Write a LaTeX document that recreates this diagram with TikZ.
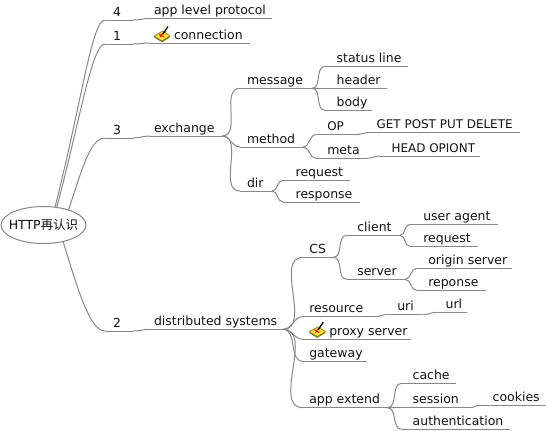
\documentclass[tikz,border=0pt]{standalone}
\usepackage{fontspec}
\setmainfont{DejaVu Sans}
\newfontfamily\cjk{Noto Sans CJK SC}
\usetikzlibrary{shapes.geometric}
\definecolor{c888888}{RGB}{136,136,136}
\definecolor{cffe83c}{RGB}{255,232,60}
\definecolor{c8a7a10}{RGB}{138,122,16}
\definecolor{c111111}{RGB}{17,17,17}
\tikzset{
  branch/.style={draw=c888888,line width=0.75pt},
  fork/.style={branch,out=0,in=180},
  topic/.style 2 args={anchor=south west,inner sep=0pt,outer sep=0pt,
    font=\fontsize{9.35pt}{11pt}\selectfont,text=c111111,text height=8pt,text depth=2.8pt,
    execute at begin node={\hbox to \dimexpr #1pt*3/4\relax\bgroup\hspace*{\dimexpr #2pt*3/4\relax}},
    execute at end node={\hss\egroup}},
  capstext/.style={font=\fontsize{8.95pt}{11pt}\selectfont},
  rootnode/.style={ellipse,draw=c888888,line width=0.75pt,inner xsep=-6pt,inner ysep=0pt,outer sep=0pt,
    minimum width=63.75pt,minimum height=27.75pt,text=c111111,font=\fontsize{9.35pt}{11pt}\selectfont},
  pics/pencilicon/.style={code={
    \path[fill=cffe83c,draw=c8a7a10,line width=0.5pt] (0,10) -- (9,5) -- (16,10) -- (8,15) -- cycle;
    \path[draw=c8a7a10,line width=0.9pt] (0.5,11) -- (8,15.5) -- (15.5,11);
    \path[draw=red,line width=0.7pt] (5,8) -- (10,11) (9,7) -- (6,11);
    \path[draw=black,line width=1pt] (9,8) -- (14,0.5);
  }}
}

\begin{document}
\begin{tikzpicture}[x=0.75pt,y=-0.75pt]
  \useasboundingbox (0,0) rectangle (546,430);

  \node[rootnode] (root) at (43.5,225) {HTTP{\cjk 再认识}};

  % first level
  \node[topic={28}{8}] (four) at (105,20) {4};
  \node[topic={122}{4}] (app) at (150,18.5) {app level protocol};
  \node[topic={28}{8}] (one) at (105,44) {1};
  \node[topic={100}{24}] (connection) at (150,43) {connection};
  \node[topic={28}{8}] (three) at (105,138) {3};
  \node[topic={72}{4}] (exchange) at (150,136) {exchange};
  \node[topic={28}{8}] (two) at (105,331) {2};
  \node[topic={133}{4}] (distributed) at (150,329.3) {distributed systems};

  % exchange
  \node[topic={72}{7}] (message) at (240,88.3) {message};
  \node[topic={63}{7}] (method) at (240,147) {method};
  \node[topic={32}{7}] (dir) at (240,191) {dir};
  \node[topic={82.7}{11.7}] (statusline) at (325,66.3) {status line};
  \node[topic={61.7}{11.7}] (header) at (325,88.3) {header};
  \node[topic={46.7}{11.7}] (body) at (325,110.3) {body};
  \node[topic={39}{11.3},capstext] (op) at (316,134.7) {OP};
  \node[topic={150}{6.7},capstext] (getpost) at (370,132.5) {GET POST PUT DELETE};
  \node[topic={51}{11.3}] (meta) at (316,158.3) {meta};
  \node[topic={100}{11.7},capstext] (headoption) at (380,156) {HEAD OPIONT};
  \node[topic={67}{12.7}] (request) at (283,180.3) {request};
  \node[topic={77}{12.7}] (response) at (283,202) {response};

  % distributed systems
  \node[topic={30.3}{6.3}] (cs) at (303,257.3) {CS};
  \node[topic={53.3}{10.6}] (client) at (346.7,235.3) {client};
  \node[topic={58.3}{10.6}] (server) at (346.7,279.3) {server};
  \node[topic={87.7}{13.3}] (useragent) at (410,224.3) {user agent};
  \node[topic={67.7}{13.3}] (request2) at (410,246.3) {request};
  \node[topic={95}{11.6}] (originserver) at (416.7,268.3) {origin server};
  \node[topic={69}{11.6}] (reponse) at (416.7,290.3) {reponse};
  \node[topic={73.7}{6.3}] (resource) at (303,316.7) {resource};
  \node[topic={38.3}{12.3}] (uri) at (385,314.7) {uri};
  \node[topic={30}{9}] (url) at (436.7,312.3) {url};
  \node[topic={108}{26.3}] (proxy) at (303,339.3) {proxy server};
  \node[topic={63.7}{6.3}] (gateway) at (303,361.3) {gateway};
  \node[topic={84.3}{6.3}] (appextend) at (303,407.7) {app extend};
  \node[topic={54}{11}] (cache) at (401.7,383.3) {cache};
  \node[topic={68.3}{11}] (session) at (401.7,407.7) {session};
  \node[topic={66}{12.7}] (cookies) at (480,405.3) {cookies};
  \node[topic={108.3}{11}] (authentication) at (401.7,429.3) {authentication};

  \pic at (154,26) {pencilicon};
  \pic at (309.3,321.7) {pencilicon};

  % underlines
  \foreach \n in {four,app,one,connection,three,exchange,two,distributed,message,method,dir,
    statusline,header,body,op,getpost,meta,headoption,request,response,cs,client,server,
    useragent,request2,originserver,reponse,resource,uri,url,proxy,gateway,appextend,
    cache,session,cookies,authentication}
    \draw[branch] (\n.south west) -- (\n.south east);

  % connectors
  \draw[branch] (root.57) .. controls (82,100) and (92,20) .. (four.south west);
  \draw[branch] (root.53) .. controls (80,120) and (92,44) .. (one.south west);
  \draw[branch] (root.31) .. controls (82,170) and (90,138) .. (three.south west);
  \draw[branch] (root.-40) .. controls (78,290) and (90,331) .. (two.south west);
  \draw[fork] (four.south east) to (app.south west);
  \draw[fork] (one.south east) to (connection.south west);
  \draw[fork] (three.south east) to (exchange.south west);
  \draw[fork] (two.south east) to (distributed.south west);

  \draw[fork] (exchange.south east) to (message.south west);
  \draw[fork] (exchange.south east) to (method.south west);
  \draw[fork] (exchange.south east) to (dir.south west);
  \draw[fork] (message.south east) to (statusline.south west);
  \draw[fork] (message.south east) to (header.south west);
  \draw[fork] (message.south east) to (body.south west);
  \draw[fork] (method.south east) to (op.south west);
  \draw[fork] (method.south east) to (meta.south west);
  \draw[fork] (op.south east) to (getpost.south west);
  \draw[fork] (meta.south east) to (headoption.south west);
  \draw[fork] (dir.south east) to (request.south west);
  \draw[fork] (dir.south east) to (response.south west);

  \draw[fork] (distributed.south east) to (cs.south west);
  \draw[fork] (distributed.south east) to (resource.south west);
  \draw[fork] (distributed.south east) to (proxy.south west);
  \draw[fork] (distributed.south east) to (gateway.south west);
  \draw[fork] (distributed.south east) to (appextend.south west);
  \draw[fork] (cs.south east) to (client.south west);
  \draw[fork] (cs.south east) to (server.south west);
  \draw[fork] (client.south east) to (useragent.south west);
  \draw[fork] (client.south east) to (request2.south west);
  \draw[fork] (server.south east) to (originserver.south west);
  \draw[fork] (server.south east) to (reponse.south west);
  \draw[fork] (resource.south east) to (uri.south west);
  \draw[fork] (uri.south east) to (url.south west);
  \draw[fork] (appextend.south east) to (cache.south west);
  \draw[fork] (appextend.south east) to (session.south west);
  \draw[fork] (appextend.south east) to (authentication.south west);
  \draw[fork] (session.south east) to (cookies.south west);
\end{tikzpicture}
\end{document}
